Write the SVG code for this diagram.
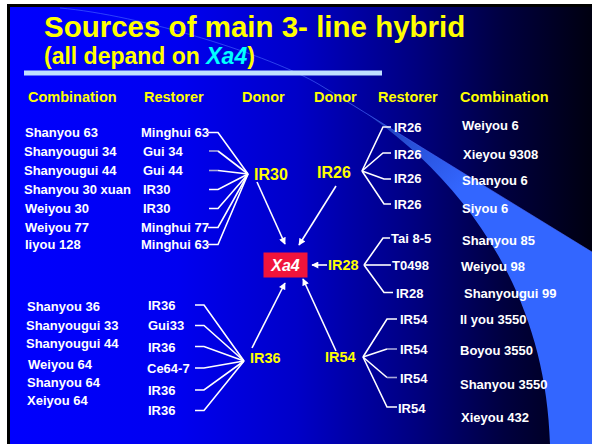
<svg xmlns="http://www.w3.org/2000/svg" width="592" height="444" viewBox="0 0 592 444">
  <defs>
    <linearGradient id="bg" gradientUnits="userSpaceOnUse" x1="0" y1="0" x2="592" y2="0">
      <stop offset="0" stop-color="#0000ff"/>
      <stop offset="0.3" stop-color="#0000f0"/>
      <stop offset="0.5" stop-color="#0000c8"/>
      <stop offset="0.7" stop-color="#000080"/>
      <stop offset="0.85" stop-color="#000040"/>
      <stop offset="1" stop-color="#000010"/>
    </linearGradient>
    <linearGradient id="beam" gradientUnits="userSpaceOnUse" x1="330" y1="90" x2="450" y2="200">
      <stop offset="0" stop-color="#182890"/>
      <stop offset="0.6" stop-color="#2850d8"/>
      <stop offset="1" stop-color="#3366ff"/>
    </linearGradient>
    <marker id="arrow" viewBox="0 0 10 10" refX="9" refY="5" markerWidth="8" markerHeight="7" markerUnits="userSpaceOnUse" orient="auto">
      <path d="M0,0 L10,5 L0,10 Z" fill="#ffffff"/>
    </marker>
    <style>
      text { font-family: "Liberation Sans", Arial, sans-serif; font-weight: bold; }
      .title { font-size: 29.5px; fill: #ffff00; }
      .sub { font-size: 23px; fill: #ffff00; }
      .hdr { font-size: 14.5px; fill: #ffff00; }
      .item { font-size: 13px; fill: #ffffff; }
      .donor { font-size: 16px; fill: #ffff00; }
      .donor-s { font-size: 14.5px; fill: #ffff00; }
      .link { fill: none; stroke: #ffffff; stroke-width: 1.6; stroke-linejoin: miter; }
      .dim { fill: none; stroke: #a8a8d8; stroke-width: 1.6; }
      .arr { fill: none; stroke: #ffffff; stroke-width: 1.6; marker-end: url(#arrow); }
    </style>
  </defs>

  <!-- slide frame and background -->
  <rect x="0" y="0" width="592" height="444" fill="#ffffff"/>
  <rect x="7" y="4" width="585" height="440" fill="#000000"/>
  <rect x="10" y="7" width="582" height="437" fill="url(#bg)"/>
  <path d="M320,85 L592,252 L592,444 L550,444 C545,270 440,150 320,85 Z" fill="url(#beam)"/>
  <path d="M60,8 C140,15 270,55 320,85 L592,252" fill="none" stroke="#4a6aff" stroke-opacity="0.6" stroke-width="1"/>

  <!-- title -->
  <text class="title" x="44" y="37">Sources of main 3- line hybrid</text>
  <text class="sub" x="44" y="64">(all depand on <tspan fill="#00ffff" font-style="italic">Xa4</tspan>)</text>
  <rect x="24" y="70.5" width="358" height="5" fill="#c0e0ff"/>

  <!-- column headers -->
  <g id="headers">
    <text class="hdr" x="28" y="102">Combination</text>
    <text class="hdr" x="144" y="102">Restorer</text>
    <text class="hdr" x="242" y="102">Donor</text>
    <text class="hdr" x="314" y="102">Donor</text>
    <text class="hdr" x="378" y="102">Restorer</text>
    <text class="hdr" x="460" y="102">Combination</text>
  </g>

  <!-- connectors -->
  <g id="connectors">
    <!-- restorers to IR30 -->
    <path class="link" d="M208,132.5 H218 L248,174"/>
    <path class="dim" d="M209,151 H218"/>
    <path class="link" d="M218,151 L248,174"/>
    <path class="dim" d="M209,170.5 H218"/>
    <path class="link" d="M218,170.5 L248,174"/>
    <path class="link" d="M209,189.5 H218 L248,174"/>
    <path class="link" d="M209,208.5 H218 L248,174"/>
    <path class="link" d="M208,227.5 H218 L248,174"/>
    <path class="link" d="M208,244.5 H218 L248,174"/>
    <!-- restorers to IR36 -->
    <path class="link" d="M195,305 H204 L244,361"/>
    <path class="link" d="M195,325.5 H204 L244,361"/>
    <path class="link" d="M195,346.5 H204 L244,361"/>
    <path class="link" d="M195,368 H204 L244,361"/>
    <path class="link" d="M195,390 H204 L244,361"/>
    <path class="link" d="M195,410.5 H204 L244,361"/>
    <!-- IR26 to restorers -->
    <path class="link" d="M362,171 L383,127 H391"/>
    <path class="link" d="M362,171 L383,153 H391"/>
    <path class="link" d="M362,171 L384,179 H391"/>
    <path class="link" d="M362,171 L384,204 H391"/>
    <!-- IR28 to restorers -->
    <path class="link" d="M364,265 L383,238 H390"/>
    <path class="link" d="M364,265 H391"/>
    <path class="link" d="M364,265 L384,292.5 H393"/>
    <!-- IR54 to restorers -->
    <path class="link" d="M363,357 L387,319 H397"/>
    <path class="link" d="M363,357 L387,349"/>
    <path class="dim" d="M387,349 H397"/>
    <path class="link" d="M363,357 L387,377.5"/>
    <path class="dim" d="M387,377.5 H397"/>
    <path class="link" d="M363,357 L387,407 H397"/>
    <!-- donors to Xa4 -->
    <path class="arr" d="M257,182 L285,244"/>
    <path class="arr" d="M336,186 L299,245"/>
    <path class="arr" d="M327,265 L312,265"/>
    <path class="arr" d="M252,348 L285,283"/>
    <path class="arr" d="M336,351 L303,279"/>
  </g>

  <!-- gene -->
  <g id="xa4">
    <rect x="263.5" y="252.5" width="44" height="25" fill="#f0143c"/>
    <text x="285.5" y="271" font-size="16" fill="#ffffff" font-style="italic" text-anchor="middle">Xa4</text>
  </g>

  <!-- donors -->
  <g id="donor-ir30"><text class="donor" x="254" y="180">IR30</text></g>
  <g id="donor-ir26"><text class="donor" x="317" y="178">IR26</text></g>
  <g id="donor-ir28"><text class="donor-s" x="328" y="270">IR28</text></g>
  <g id="donor-ir36"><text class="donor-s" x="250" y="363">IR36</text></g>
  <g id="donor-ir54"><text class="donor-s" x="325" y="362">IR54</text></g>

  <!-- left restorers -->
  <g id="restorers-left">
    <text class="item" x="141" y="137">Minghui 63</text>
    <text class="item" x="143" y="156">Gui 34</text>
    <text class="item" x="143" y="175">Gui 44</text>
    <text class="item" x="143" y="194">IR30</text>
    <text class="item" x="143" y="213">IR30</text>
    <text class="item" x="141" y="232">Minghui 77</text>
    <text class="item" x="141" y="249">Minghui 63</text>
    <text class="item" x="148" y="310">IR36</text>
    <text class="item" x="148" y="330">Gui33</text>
    <text class="item" x="148" y="352">IR36</text>
    <text class="item" x="147" y="373">Ce64-7</text>
    <text class="item" x="148" y="395">IR36</text>
    <text class="item" x="148" y="415">IR36</text>
  </g>

  <!-- left combinations -->
  <g id="combinations-left">
    <text class="item" x="25" y="137">Shanyou 63</text>
    <text class="item" x="24" y="156">Shanyougui 34</text>
    <text class="item" x="24" y="175">Shanyougui 44</text>
    <text class="item" x="24" y="194">Shanyou 30 xuan</text>
    <text class="item" x="25" y="213">Weiyou 30</text>
    <text class="item" x="25" y="232">Weiyou 77</text>
    <text class="item" x="25" y="249">Iiyou 128</text>
    <text class="item" x="27" y="311">Shanyou 36</text>
    <text class="item" x="26" y="330">Shanyougui 33</text>
    <text class="item" x="26" y="348">Shanyougui 44</text>
    <text class="item" x="28" y="369">Weiyou 64</text>
    <text class="item" x="27" y="387">Shanyou 64</text>
    <text class="item" x="27" y="405">Xeiyou 64</text>
  </g>

  <!-- right restorers -->
  <g id="restorers-right">
    <text class="item" x="394" y="132">IR26</text>
    <text class="item" x="394" y="158.5">IR26</text>
    <text class="item" x="394" y="183">IR26</text>
    <text class="item" x="394" y="209">IR26</text>
    <text class="item" x="391" y="243">Tai 8-5</text>
    <text class="item" x="392" y="270">T0498</text>
    <text class="item" x="396" y="297.5">IR28</text>
    <text class="item" x="400" y="324">IR54</text>
    <text class="item" x="400" y="354">IR54</text>
    <text class="item" x="400" y="382.5">IR54</text>
    <text class="item" x="398" y="413" font-size="15">IR54</text>
  </g>

  <!-- right combinations -->
  <g id="combinations-right">
    <text class="item" x="462" y="130">Weiyou 6</text>
    <text class="item" x="463" y="158.5">Xieyou 9308</text>
    <text class="item" x="462" y="185">Shanyou 6</text>
    <text class="item" x="462" y="213">Siyou 6</text>
    <text class="item" x="462" y="245">Shanyou 85</text>
    <text class="item" x="461" y="271">Weiyou 98</text>
    <text class="item" x="464" y="298">Shanyougui 99</text>
    <text class="item" x="460" y="323.5">Il you 3550</text>
    <text class="item" x="460" y="354.5">Boyou 3550</text>
    <text class="item" x="460" y="389">Shanyou 3550</text>
    <text class="item" x="461" y="422">Xieyou 432</text>
  </g>
</svg>
